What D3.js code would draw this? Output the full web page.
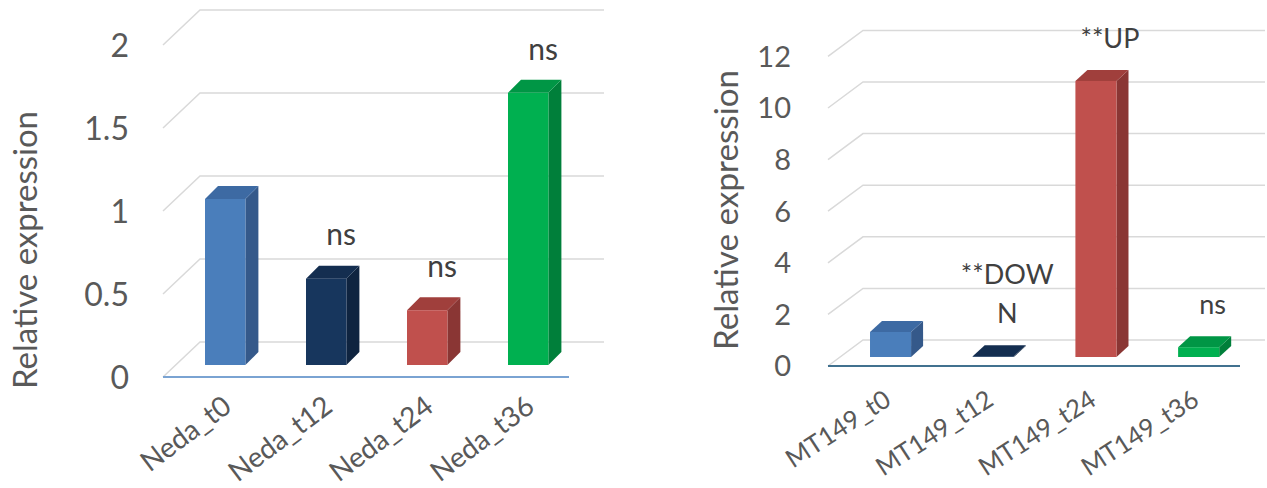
<!DOCTYPE html>
<html>
<head>
<meta charset="utf-8">
<script src="https://cdn.jsdelivr.net/npm/d3@7"></script>
<style>
  html, body { margin: 0; padding: 0; background: #ffffff; }
  svg { display: block; }
  text { font-family: Lato, "Open Sans", sans-serif; }
</style>
</head>
<body>
<svg id="chart" width="1267" height="488"></svg>
<script>
// ---------------- data ----------------
const nedaCategories = ["Neda_t0", "Neda_t12", "Neda_t24", "Neda_t36"];
const nedaValues = [1.0, 0.52, 0.33, 1.64];
const nedaAnnotations = [[], ["ns"], ["ns"], ["ns"]];
const nedaTicks = [0, 0.5, 1, 1.5, 2];
const nedaTickLabels = ["0", "0.5", "1", "1.5", "2"];

const mtCategories = ["MT149_t0", "MT149_t12", "MT149_t24", "MT149_t36"];
const mtValues = [0.97, 0.03, 10.7, 0.38];
const mtAnnotations = [[], ["**DOW", "N"], ["**UP"], ["ns"]];
const mtTicks = [0, 2, 4, 6, 8, 10, 12];
const mtTickLabels = ["0", "2", "4", "6", "8", "10", "12"];

const yTitle = "Relative expression";

// ---------------- styles ----------------
const barColors = [
  { front: "#4a7ebb", side: "#35598a", top: "#3d6aa3" },
  { front: "#17365d", side: "#0f2440", top: "#142e50" },
  { front: "#c0504d", side: "#8a3634", top: "#a03f3c" },
  { front: "#00b050", side: "#007f3a", top: "#009645" }
];

const svg = d3.select("#chart");

function drawChart(cfg) {
  const g = svg.append("g");
  const y = d3.scaleLinear().domain(cfg.domain).range([cfg.baseY, cfg.topY]);
  const x = d3.scaleBand().domain(cfg.categories).range(cfg.bandRange)
    .paddingInner(0.6).paddingOuter(0.3);

  // gridlines (front-left diagonal + back wall horizontal)
  cfg.ticks.forEach(t => {
    const yf = y(t) + cfg.frontOff;
    const yb = y(t) - cfg.backOff;
    g.append("path")
      .attr("d", d3.line()([[cfg.frontX0, yf], [cfg.backX0, yb], [cfg.backX1, yb]]))
      .attr("fill", "none")
      .attr("stroke", "#d9d9d9")
      .attr("stroke-width", 1.5);
  });

  // front baseline
  g.append("line")
    .attr("x1", cfg.frontX0).attr("x2", cfg.frontX1)
    .attr("y1", y(0) + cfg.frontOff).attr("y2", y(0) + cfg.frontOff)
    .attr("stroke", cfg.baseColor).attr("stroke-width", 2);

  // tick labels
  g.selectAll(".tick").data(cfg.ticks).enter().append("text")
    .attr("x", cfg.tickX)
    .attr("y", t => y(t) + cfg.frontOff)
    .attr("dy", "0.36em")
    .attr("text-anchor", "end")
    .attr("fill", "#595959")
    .attr("font-size", cfg.tickFont)
    .text((t, i) => cfg.tickLabels[i]);

  // y-axis title
  g.append("text")
    .attr("transform", `translate(${cfg.titleX},${cfg.titleY}) rotate(-90)`)
    .attr("text-anchor", "middle")
    .attr("dy", "0.36em")
    .attr("fill", "#595959")
    .attr("font-size", cfg.titleFont)
    .attr("textLength", cfg.titleLen)
    .attr("lengthAdjust", "spacingAndGlyphs")
    .text(yTitle);

  // bars (3D)
  const dx = cfg.barDx, dy = cfg.barDy;
  const bars = g.selectAll(".bar").data(cfg.values).enter().append("g");
  bars.each(function(v, i) {
    const b = d3.select(this);
    const x0 = x(cfg.categories[i]);
    const w = x.bandwidth();
    const yt = y(v), yb = y(0);
    const c = barColors[i];
    b.append("path")
      .attr("d", d3.line()([[x0 + w, yt], [x0 + w + dx, yt - dy], [x0 + w + dx, yb - dy], [x0 + w, yb]]) + "Z")
      .attr("fill", c.side);
    b.append("path")
      .attr("d", d3.line()([[x0, yt], [x0 + dx, yt - dy], [x0 + w + dx, yt - dy], [x0 + w, yt]]) + "Z")
      .attr("fill", c.top);
    b.append("rect")
      .attr("x", x0).attr("y", yt)
      .attr("width", w).attr("height", Math.max(0, yb - yt))
      .attr("fill", c.front);
  });

  // annotations
  cfg.annotations.forEach((lines, i) => {
    if (!lines.length) return;
    const cx = x(cfg.categories[i]) + x.bandwidth() / 2 + cfg.annDx;
    const cyLast = y(cfg.values[i]) - cfg.annDy;
    lines.forEach((ln, j) => {
      g.append("text")
        .attr("x", cx)
        .attr("y", cyLast - (lines.length - 1 - j) * cfg.annLine)
        .attr("dy", "0.36em")
        .attr("text-anchor", "middle")
        .attr("fill", "#404040")
        .attr("font-size", cfg.annFont)
        .text(ln);
    });
  });

  // category labels
  g.selectAll(".xl").data(cfg.categories).enter().append("text")
    .attr("transform", d => `translate(${x(d) + x.bandwidth() / 2 + cfg.xlDx},${cfg.xlY}) rotate(${cfg.xlRot})`)
    .attr("text-anchor", "end")
    .attr("fill", "#595959")
    .attr("font-size", cfg.xlFont)
    .text(d => d);
}

drawChart({
  categories: nedaCategories, values: nedaValues, annotations: nedaAnnotations,
  ticks: nedaTicks, tickLabels: nedaTickLabels,
  domain: [0, 2], baseY: 365, topY: 33,
  frontOff: 12, backOff: 23,
  frontX0: 163, backX0: 200, backX1: 604, frontX1: 569,
  bandRange: [174.7, 578.7],
  barDx: 13, barDy: 13,
  baseColor: "#7aa3d2",
  tickX: 129, tickFont: 32,
  titleX: 25, titleY: 250, titleFont: 32, titleLen: 278,
  annDx: 15, annDy: 44, annLine: 39, annFont: 30,
  xlDx: 8, xlY: 410, xlRot: -37, xlFont: 28
});

drawChart({
  categories: mtCategories, values: mtValues, annotations: mtAnnotations,
  ticks: mtTicks, tickLabels: mtTickLabels,
  domain: [0, 12], baseY: 357, topY: 47.4,
  frontOff: 9, backOff: 17,
  frontX0: 828, backX0: 863, backX1: 1265, frontX1: 1240,
  bandRange: [839.2, 1250],
  barDx: 12, barDy: 11,
  baseColor: "#41718f",
  tickX: 791, tickFont: 29,
  titleX: 726, titleY: 210, titleFont: 32, titleLen: 280,
  annDx: 14, annDy: 43, annLine: 39, annFont: 27,
  xlDx: 2, xlY: 404, xlRot: -33, xlFont: 25.5
});
</script>
</body>
</html>
